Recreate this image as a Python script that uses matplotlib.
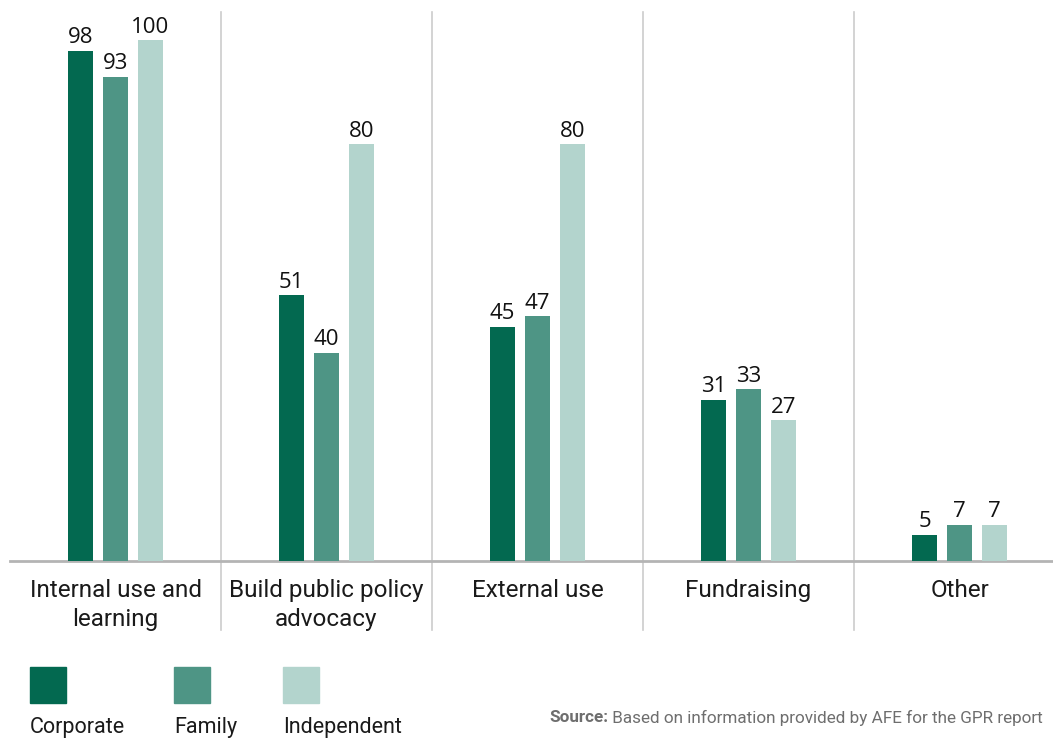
import matplotlib
matplotlib.use("Agg")
import matplotlib.pyplot as plt
import matplotlib.transforms as mtransforms
from matplotlib.patches import Rectangle
import numpy as np

categories = ["Internal use and\nlearning", "Build public policy\nadvocacy", "External use", "Fundraising", "Other"]
series_names = ["Corporate", "Family", "Independent"]
corporate = [98, 51, 45, 31, 5]
family = [93, 40, 47, 33, 7]
independent = [100, 80, 80, 27, 7]
source_bold = "Source:"
source_text = " Based on information provided by AFE for the GPR report"

colors = ["#036950", "#4e9585", "#b3d4cd"]
label_font = "Roboto"
num_font = "Open Sans"

fig = plt.figure(figsize=(10.53, 7.40), dpi=100)
ax = fig.add_axes([10 / 1053, 179 / 740, 1055 / 1053, 549 / 740])

x = np.arange(len(categories))
width = 0.118
offsets = [-0.166, 0.0, 0.166]
for vals, off, col in zip([corporate, family, independent], offsets, colors):
    bars = ax.bar(x + off, vals, width=width, color=col, zorder=3)
    for b, v in zip(bars, vals):
        ax.text(b.get_x() + b.get_width() / 2, v + 0.5, f"{v}", ha="center", va="bottom",
                fontsize=16, family=num_font, color="#111111")

ax.set_xlim(-0.5, 4.5)
ax.set_ylim(0, 105.4)
for s in ["top", "right", "left"]:
    ax.spines[s].set_visible(False)
ax.spines["bottom"].set_color("#b4b4b4")
ax.spines["bottom"].set_linewidth(2)
ax.set_yticks([])
ax.set_xticks(x)
ax.set_xticklabels(categories, fontsize=17.5, family=label_font, weight="normal",
                   color="#1a1a1a", linespacing=1.35)
ax.tick_params(axis="x", length=0, pad=13)

trans = mtransforms.blended_transform_factory(ax.transData, ax.transAxes)
for sep in x[:-1] + 0.5:
    ax.plot([sep, sep], [-0.1257, 1.0], transform=trans, color="#cccccc", lw=1.2,
            clip_on=False, zorder=1)

# legend: squares with names underneath
leg_x = [30, 174, 283]
for lx, name, col in zip(leg_x, series_names, colors):
    fig.patches.append(Rectangle((lx / 1053, (740 - 703) / 740), 36 / 1053, 36 / 740,
                                 transform=fig.transFigure, color=col))
    fig.text(lx / 1053, (740 - 728) / 740, name, fontsize=15.5, family=label_font,
             weight="normal", color="#1a1a1a", va="center", ha="left")

t = fig.text(549 / 1053, (740 - 718) / 740, source_bold, fontsize=12.3, family=label_font,
             weight="bold", color="#6e6e6e", va="center", ha="left")
fig.canvas.draw()
bb = t.get_window_extent()
fig.text(bb.x1 / 1053, (740 - 718) / 740, source_text, fontsize=12.3, family=label_font,
         weight="normal", color="#6e6e6e", va="center", ha="left")

fig.savefig("out.png", dpi=100)
